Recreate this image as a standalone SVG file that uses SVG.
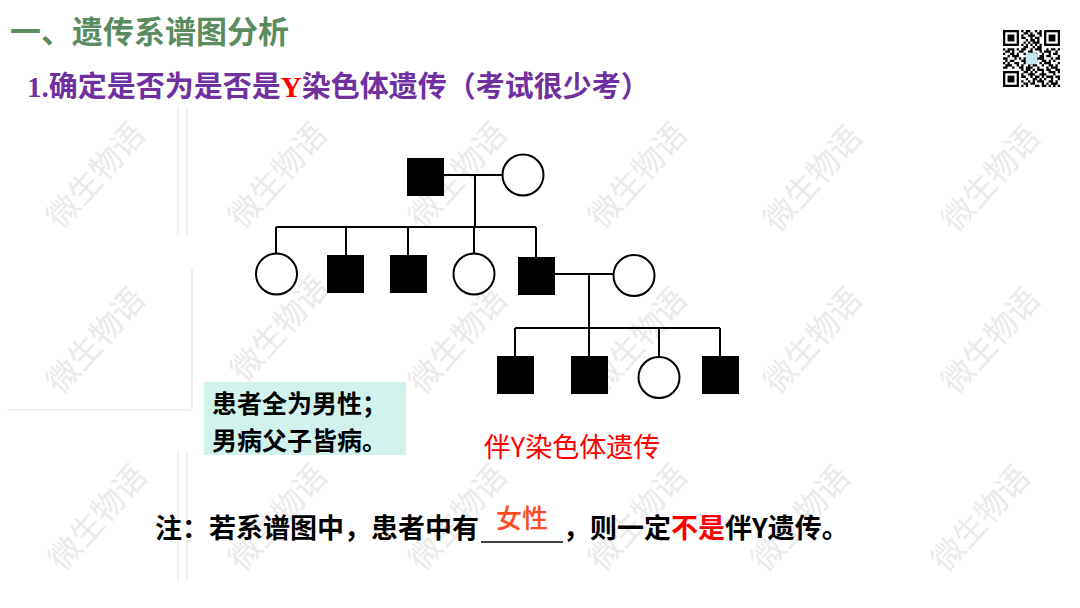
<svg xmlns="http://www.w3.org/2000/svg" width="1080" height="608" viewBox="0 0 1080 608">
<style>
.cjk{font-family:"Noto Sans CJK SC","Noto Sans",sans-serif}
.wm{font-family:"Noto Sans CJK SC",sans-serif;font-size:32px;fill:#ebebeb;text-anchor:middle}
.ln{stroke:#000;stroke-width:2;fill:none}
.m{fill:#000}
.f{fill:#fff;stroke:#000;stroke-width:2}
.faint{stroke:#e6e6e6;stroke-width:1.2;fill:none}
</style>
<rect width="1080" height="608" fill="#fff"/>
<g id="watermarks">
<text class="wm" x="95" y="187" transform="rotate(-48 95 175)">微生物语</text>
<text class="wm" x="277" y="187" transform="rotate(-48 277 175)">微生物语</text>
<text class="wm" x="457" y="187" transform="rotate(-48 457 175)">微生物语</text>
<text class="wm" x="637" y="187" transform="rotate(-48 637 175)">微生物语</text>
<text class="wm" x="812" y="190" transform="rotate(-48 812 178)">微生物语</text>
<text class="wm" x="990" y="190" transform="rotate(-48 990 178)">微生物语</text>
<text class="wm" x="95" y="352" transform="rotate(-48 95 340)">微生物语</text>
<text class="wm" x="279" y="340" transform="rotate(-48 279 328)">微生物语</text>
<text class="wm" x="457" y="352" transform="rotate(-48 457 340)">微生物语</text>
<text class="wm" x="637" y="352" transform="rotate(-48 637 340)">微生物语</text>
<text class="wm" x="812" y="352" transform="rotate(-48 812 340)">微生物语</text>
<text class="wm" x="990" y="352" transform="rotate(-48 990 340)">微生物语</text>
<text class="wm" x="97" y="529" transform="rotate(-48 97 517)">微生物语</text>
<text class="wm" x="277" y="529" transform="rotate(-48 277 517)">微生物语</text>
<text class="wm" x="457" y="529" transform="rotate(-48 457 517)">微生物语</text>
<text class="wm" x="637" y="529" transform="rotate(-48 637 517)">微生物语</text>
<text class="wm" x="800" y="530" transform="rotate(-48 800 518)">微生物语</text>
<text class="wm" x="980" y="530" transform="rotate(-48 980 518)">微生物语</text>
</g>
<g id="faint-lines">
<path class="faint" d="M178 108V235M187 108V235M192 268V410M7 410H192M178 452V580M187 452V580"/>
</g>
<g id="title">
<text class="cjk" x="10" y="43" font-size="31" font-weight="bold" fill="#5b8c5f">一、遗传系谱图分析</text>
</g>
<g id="subtitle">
<text x="27" y="97" font-size="29" font-weight="bold" fill="#7030a0"><tspan font-family="Liberation Serif,serif">1.</tspan><tspan class="cjk">确定是否为是否是</tspan><tspan font-family="Liberation Serif,serif" fill="#ff0000">Y</tspan><tspan class="cjk">染色体遗传（考试很少考）</tspan></text>
</g>
<g id="qrcode" transform="translate(1003,30) scale(2.28)">
<rect x="-0.5" y="-0.5" width="26" height="26" fill="#fff"/>
<rect x="0.5" y="0.5" width="6" height="6" fill="none" stroke="#000"/><rect x="2" y="2" width="3" height="3"/>
<rect x="18.5" y="0.5" width="6" height="6" fill="none" stroke="#000"/><rect x="20" y="2" width="3" height="3"/>
<rect x="0.5" y="18.5" width="6" height="6" fill="none" stroke="#000"/><rect x="2" y="20" width="3" height="3"/>
<path d="M8 0h1v1h-1zM10 0h2v1h-2zM14 0h1v1h-1zM16 0h1v1h-1z
M9 1h2v1h-2zM12 1h1v1h-1zM15 1h2v1h-2z
M8 2h1v1h-1zM11 2h3v1h-3zM16 2h1v1h-1z
M8 3h2v1h-2zM12 3h1v1h-1zM14 3h2v1h-2z
M10 4h1v1h-1zM12 4h2v1h-2zM15 4h1v1h-1z
M9 5h1v1h-1zM11 5h1v1h-1zM13 5h3v1h-3z
M8 6h1v1h-1zM10 6h1v1h-1zM12 6h1v1h-1zM14 6h1v1h-1zM16 6h1v1h-1z
M9 7h2v1h-2zM13 7h1v1h-1zM15 7h2v1h-2z
M0 8h1v1h-1zM2 8h3v1h-3zM6 8h1v1h-1zM8 8h2v1h-2zM12 8h1v1h-1zM14 8h3v1h-3zM19 8h1v1h-1zM21 8h2v1h-2zM24 8h1v1h-1z
M1 9h2v1h-2zM4 9h1v1h-1zM7 9h2v1h-2zM11 9h2v1h-2zM16 9h1v1h-1zM18 9h3v1h-3zM23 9h1v1h-1z
M0 10h1v1h-1zM3 10h2v1h-2zM6 10h1v1h-1zM9 10h1v1h-1zM12 10h3v1h-3zM17 10h1v1h-1zM20 10h1v1h-1zM22 10h2v1h-2z
M2 11h1v1h-1zM4 11h3v1h-3zM10 11h2v1h-2zM14 11h1v1h-1zM16 11h2v1h-2zM19 11h2v1h-2zM24 11h1v1h-1z
M0 12h2v1h-2zM5 12h1v1h-1zM7 12h1v1h-1zM9 12h1v1h-1zM15 12h3v1h-3zM21 12h1v1h-1zM23 12h2v1h-2z
M1 13h1v1h-1zM3 13h2v1h-2zM8 13h3v1h-3zM14 13h1v1h-1zM17 13h2v1h-2zM20 13h1v1h-1zM22 13h1v1h-1z
M0 14h1v1h-1zM2 14h1v1h-1zM5 14h2v1h-2zM9 14h1v1h-1zM12 14h2v1h-2zM16 14h1v1h-1zM18 14h3v1h-3zM24 14h1v1h-1z
M1 15h3v1h-3zM6 15h1v1h-1zM8 15h1v1h-1zM11 15h1v1h-1zM13 15h2v1h-2zM17 15h1v1h-1zM20 15h2v1h-2zM23 15h1v1h-1z
M0 16h2v1h-2zM4 16h1v1h-1zM7 16h2v1h-2zM10 16h3v1h-3zM15 16h1v1h-1zM19 16h1v1h-1zM21 16h3v1h-3z
M8 17h1v1h-1zM10 17h2v1h-2zM13 17h1v1h-1zM15 17h3v1h-3zM19 17h2v1h-2zM23 17h2v1h-2z
M9 18h2v1h-2zM12 18h1v1h-1zM14 18h1v1h-1zM17 18h1v1h-1zM20 18h3v1h-3zM24 18h1v1h-1z
M8 19h1v1h-1zM11 19h3v1h-3zM16 19h2v1h-2zM18 19h1v1h-1zM22 19h1v1h-1z
M8 20h2v1h-2zM12 20h1v1h-1zM14 20h2v1h-2zM17 20h1v1h-1zM19 20h3v1h-3zM23 20h2v1h-2z
M10 21h1v1h-1zM13 21h2v1h-2zM16 21h1v1h-1zM18 21h1v1h-1zM21 21h1v1h-1zM24 21h1v1h-1z
M8 22h1v1h-1zM11 22h1v1h-1zM13 22h1v1h-1zM15 22h3v1h-3zM20 22h2v1h-2zM23 22h1v1h-1z
M9 23h2v1h-2zM12 23h2v1h-2zM17 23h1v1h-1zM19 23h1v1h-1zM21 23h3v1h-3z
M8 24h1v1h-1zM10 24h1v1h-1zM14 24h2v1h-2zM17 24h2v1h-2zM20 24h1v1h-1zM22 24h1v1h-1zM24 24h1v1h-1z"/>
<rect x="10" y="10" width="5" height="5" rx="1" fill="#c4e6ec"/>
</g>
<g id="connectors">
<path class="ln" d="M444 175H503M475 175V227M276 227H536M276 227V253M346 227V255M408 227V255M474 227V253M536 227V257M555 274H613M589 274V328M515 328H720M515 328V356M589 328V356M659 328V357M720 328V356"/>
</g>
<g id="I-1"><rect class="m" x="407" y="158" width="37" height="38"/></g>
<g id="I-2"><circle class="f" cx="523" cy="175" r="20.5"/></g>
<g id="II-1"><circle class="f" cx="276.5" cy="274" r="20.5"/></g>
<g id="II-2"><rect class="m" x="327" y="255" width="37" height="38"/></g>
<g id="II-3"><rect class="m" x="390" y="255" width="37" height="38"/></g>
<g id="II-4"><circle class="f" cx="474" cy="274" r="20.5"/></g>
<g id="II-5"><rect class="m" x="518" y="257" width="37" height="38"/></g>
<g id="II-6"><circle class="f" cx="634" cy="275.5" r="20.5"/></g>
<g id="III-1"><rect class="m" x="497" y="356" width="37" height="38"/></g>
<g id="III-2"><rect class="m" x="571" y="356" width="37" height="38"/></g>
<g id="III-3"><circle class="f" cx="659" cy="377.5" r="20.5"/></g>
<g id="III-4"><rect class="m" x="702" y="356" width="37" height="38"/></g>
<g id="note-box">
<rect x="204" y="382" width="202" height="73" fill="#d2f2ee"/>
<text class="cjk" x="212" y="413" font-size="25" font-weight="bold" fill="#000">患者全为男性；</text>
<text class="cjk" x="212" y="450" font-size="25" font-weight="bold" fill="#000">男病父子皆病。</text>
</g>
<g id="label">
<text class="cjk" x="572" y="457" font-size="27" fill="#ff0000" text-anchor="middle">伴Y染色体遗传</text>
</g>
<g id="bottom-note">
<text class="cjk" x="155" y="538" font-size="27" font-weight="bold" fill="#000">注：若系谱图中，患者中有</text>
<line x1="481" y1="542" x2="563" y2="542" stroke="#000" stroke-width="1.3"/>
<text class="cjk" x="522" y="528" font-size="26" font-weight="500" fill="#ff4b1f" text-anchor="middle">女性</text>
<text class="cjk" x="563" y="538" font-size="27" font-weight="bold" fill="#000">，则一定<tspan fill="#ff0000">不是</tspan>伴Y遗传。</text>
</g>
</svg>
